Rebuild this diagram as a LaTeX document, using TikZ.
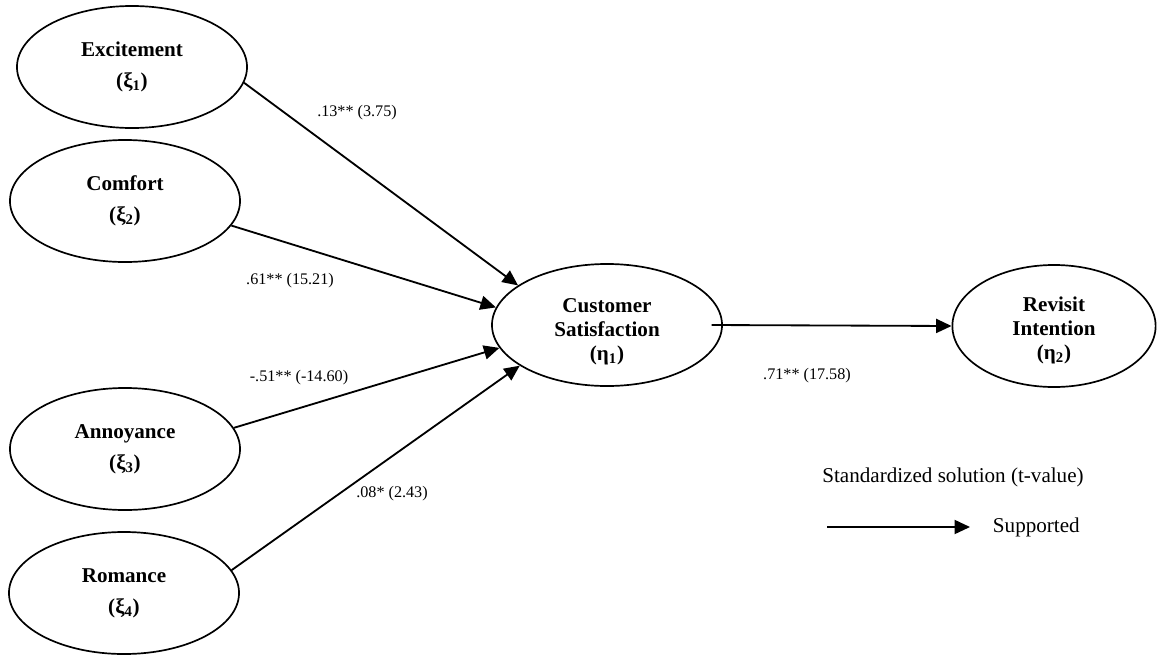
\documentclass[tikz,border=0pt]{standalone}
\usepackage{fontspec}
\setmainfont{Liberation Serif}
\usetikzlibrary{shapes.geometric,arrows.meta}

\begin{document}
\begin{tikzpicture}[x=0.025cm,y=-0.025cm,
  construct/.style={draw,ellipse,line width=1.2pt,inner sep=0pt,
    minimum width=5.75cm,minimum height=3.05cm,align=center,
    font=\fontsize{15}{22}\selectfont\bfseries},
  endo/.style={construct,font=\fontsize{15}{17}\selectfont\bfseries},
  path/.style={line width=1.3pt,-{Triangle[length=11pt,width=10pt]}},
  coef/.style={font=\fontsize{11.5}{13}\selectfont},
  legend/.style={font=\fontsize{15}{17}\selectfont}]
\useasboundingbox (0,0) rectangle (1157,658);
\clip (0,0) rectangle (1157,658);

% exogenous constructs
\node[construct] (exc) at (132,67)  {Excitement\\(ξ\textsubscript{1})};
\node[construct] (com) at (125,201) {Comfort\\(ξ\textsubscript{2})};
\node[construct] (ann) at (125,449) {Annoyance\\(ξ\textsubscript{3})};
\node[construct] (rom) at (124,593) {Romance\\(ξ\textsubscript{4})};

% endogenous constructs (strut on the first line lowers the text block)
\node[endo] (cs) at (607,325)
  {\rule{0pt}{20pt}Customer\\Satisfaction\\(η\textsubscript{1})};
\node[endo,minimum width=5.08cm] (ri) at (1054,326)
  {\rule{0pt}{17pt}Revisit\\Intention\\(η\textsubscript{2})};

% structural paths
\draw[path] (exc.-8)  -- (cs.156);
\draw[path] (com.-13) -- (cs.171);
\draw[path] (ann.11)  -- (cs.192);
\draw[path] (rom.12)  -- (cs.205);
\draw[path] ([xshift=-8pt]cs.east) -- (ri.west);

% path coefficients
\node[coef] (c1) at (357,113) {.13** (3.75)};
\node[coef] (c2) at (290,281) {.61** (15.21)};
\node[coef] (c3) at (299,378) {-.51** (-14.60)};
\node[coef] (c4) at (392,494) {.08* (2.43)};
\node[coef] (c5) at (807,376) {.71** (17.58)};

% legend
\node[legend] (lt) at (953,477) {Standardized solution (t-value)};
\coordinate (la) at (827,527);
\coordinate (lb) at (970,527);
\draw[path] (la) -- (lb);
\node[legend,anchor=west] (ls) at (988,527) {Supported};
\end{tikzpicture}
\end{document}
